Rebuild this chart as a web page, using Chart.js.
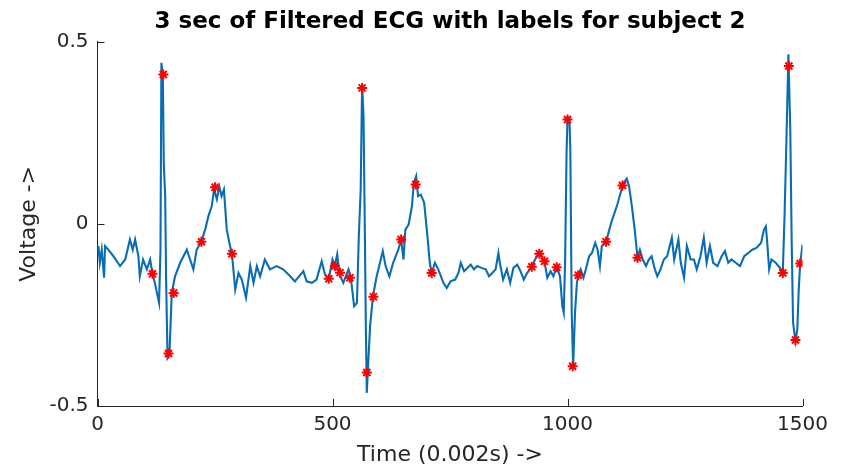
<!DOCTYPE html>
<html>
<head>
<meta charset="utf-8">
<script src="https://cdn.jsdelivr.net/npm/chart.js@4.4.1/dist/chart.umd.min.js"></script>
<style>
  html, body { margin: 0; padding: 0; background: #ffffff; }
  #wrap { width: 851px; height: 473px; position: relative; }
</style>
</head>
<body>
<div id="wrap"><canvas id="c" width="851" height="473"></canvas></div>
<script>
// Filtered ECG signal (sample index, voltage)
const times = [0,2,5,9,14,16,23,34,48,59,69,75,80,87,90,97,105,112,117,122,131,134,136,139,141,144,146,149,153,158,165,176,190,197,204,211,221,229,236,243,248,254,259,264,269,275,282,286,293,300,307,316,325,332,339,346,356,367,381,395,410,420,438,445,456,466,477,484,492,500,505,510,515,523,534,539,546,552,556,560,563,566,569,571,573,576,580,586,594,601,607,613,621,629,640,646,651,655,662,669,673,678,682,688,695,702,707,711,718,725,736,743,751,761,768,773,780,787,794,801,808,817,826,833,840,847,853,856,863,871,878,885,893,900,907,914,924,931,940,951,957,964,970,977,984,989,992,995,998,1000,1004,1006,1009,1012,1016,1020,1023,1028,1034,1039,1046,1052,1059,1064,1069,1073,1082,1089,1094,1099,1106,1113,1120,1126,1131,1137,1143,1149,1154,1160,1167,1173,1179,1185,1191,1198,1205,1212,1222,1227,1236,1241,1248,1254,1262,1269,1275,1283,1290,1296,1303,1310,1319,1328,1335,1342,1349,1358,1367,1376,1385,1393,1402,1412,1418,1422,1425,1429,1434,1443,1452,1458,1462,1466,1470,1474,1477,1480,1485,1489,1492,1495,1500];
const volts = [-0.089,-0.061,-0.107,-0.071,-0.148,-0.061,-0.071,-0.089,-0.116,-0.098,-0.043,-0.071,-0.043,-0.089,-0.144,-0.098,-0.125,-0.098,-0.137,-0.162,-0.217,-0.071,0.442,0.405,0.167,0.076,-0.153,-0.368,-0.359,-0.189,-0.144,-0.107,-0.071,-0.098,-0.125,-0.071,-0.049,-0.016,0.021,0.048,0.094,0.067,0.103,0.076,0.094,-0.016,-0.061,-0.082,-0.180,-0.135,-0.153,-0.203,-0.116,-0.162,-0.116,-0.144,-0.098,-0.125,-0.116,-0.125,-0.144,-0.158,-0.130,-0.158,-0.162,-0.153,-0.103,-0.139,-0.151,-0.098,-0.116,-0.084,-0.139,-0.162,-0.125,-0.148,-0.226,-0.217,-0.034,0.094,0.382,0.295,-0.043,-0.290,-0.464,-0.382,-0.281,-0.199,-0.144,-0.107,-0.075,-0.116,-0.144,-0.107,-0.071,-0.043,-0.098,-0.016,-0.002,0.048,0.113,0.131,0.076,0.080,0.058,-0.034,-0.107,-0.135,-0.107,-0.125,-0.162,-0.176,-0.158,-0.153,-0.135,-0.107,-0.130,-0.121,-0.112,-0.125,-0.116,-0.121,-0.125,-0.144,-0.135,-0.125,-0.080,-0.107,-0.153,-0.125,-0.162,-0.121,-0.112,-0.130,-0.153,-0.135,-0.118,-0.098,-0.080,-0.103,-0.148,-0.130,-0.144,-0.119,-0.144,-0.226,-0.244,-0.098,0.195,0.291,0.291,0.204,-0.244,-0.391,-0.244,-0.162,-0.141,-0.125,-0.148,-0.125,-0.089,-0.080,-0.052,-0.071,-0.116,-0.061,-0.049,-0.016,0.007,0.026,0.053,0.085,0.113,0.124,0.103,0.048,-0.016,-0.093,-0.071,-0.098,-0.116,-0.098,-0.089,-0.121,-0.144,-0.125,-0.098,-0.089,-0.038,-0.098,-0.043,-0.107,-0.148,-0.061,-0.098,-0.098,-0.125,-0.089,-0.038,-0.107,-0.061,-0.107,-0.116,-0.089,-0.075,-0.107,-0.098,-0.107,-0.116,-0.089,-0.080,-0.071,-0.066,-0.052,-0.016,-0.007,-0.052,-0.125,-0.098,-0.107,-0.121,-0.135,0.030,0.240,0.465,0.259,-0.052,-0.272,-0.322,-0.290,-0.180,-0.112,-0.057];

// Labelled points (red asterisks)
const markTimes = [117,140,151,162,221,250,286,492,505,516,537,563,573,587,646,677,711,924,940,951,977,1000,1011,1023,1082,1117,1149,1458,1471,1485,1495];
const markVolts = [-0.137,0.410,-0.356,-0.190,-0.049,0.100,-0.082,-0.151,-0.116,-0.134,-0.148,0.373,-0.408,-0.200,-0.043,0.108,-0.135,-0.118,-0.082,-0.103,-0.119,0.286,-0.391,-0.141,-0.049,0.105,-0.093,-0.135,0.433,-0.319,-0.109];

// Axis ticks
const xTicks = [0, 500, 1000, 1500];
const yTicks = [-0.5, 0, 0.5];

const titleText = '3 sec of Filtered ECG with labels for subject 2';
const xLabel = 'Time (0.002s) ->';
const yLabel = 'Voltage ->';

const axisColor = '#262626';

const inwardTicks = {
  id: 'inwardTicks',
  afterDraw(chart) {
    const { ctx, chartArea: a, scales } = chart;
    ctx.save();
    ctx.strokeStyle = axisColor;
    ctx.lineWidth = 1;
    scales.x.ticks.forEach(t => {
      const px = Math.round(scales.x.getPixelForValue(t.value)) + 0.5;
      ctx.beginPath(); ctx.moveTo(px, a.bottom); ctx.lineTo(px, a.bottom - 7); ctx.stroke();
    });
    scales.y.ticks.forEach(t => {
      const py = Math.round(scales.y.getPixelForValue(t.value)) + 0.5;
      ctx.beginPath(); ctx.moveTo(a.left, py); ctx.lineTo(a.left + 7, py); ctx.stroke();
    });
    ctx.restore();
  }
};

new Chart(document.getElementById('c'), {
  type: 'scatter',
  data: {
    datasets: [
      {
        label: 'ECG',
        data: times.map((t, i) => ({ x: t, y: volts[i] })),
        showLine: true,
        borderColor: '#0a6db3',
        borderWidth: 2.1,
        pointRadius: 0,
        tension: 0,
        order: 2
      },
      {
        label: 'labels',
        data: markTimes.map((t, i) => ({ x: t, y: markVolts[i] })),
        showLine: false,
        pointStyle: 'star',
        pointRadius: 5,
        borderColor: '#ff0000',
        backgroundColor: '#ff0000',
        pointBorderWidth: 2,
        order: 1
      }
    ]
  },
  options: {
    responsive: false,
    animation: false,
    devicePixelRatio: 1,
    layout: { padding: { left: 12, right: 48.5, top: 0, bottom: 1.6 } },
    plugins: {
      legend: { display: false },
      tooltip: { enabled: false },
      title: {
        display: true,
        text: titleText,
        fullSize: false,
        color: '#000000',
        font: { family: 'DejaVu Sans', size: 23, weight: 'bold' },
        padding: { top: 8, bottom: 6 }
      }
    },
    scales: {
      x: {
        type: 'linear',
        min: 0, max: 1500,
        afterBuildTicks: s => { s.ticks = xTicks.map(v => ({ value: v })); },
        afterFit: s => { s.height = 65.4; },
        ticks: {
          color: axisColor,
          padding: 7,
          maxRotation: 0,
          font: { family: 'DejaVu Sans', size: 20 },
          callback: v => String(v)
        },
        grid: { display: true, drawOnChartArea: false, drawTicks: false },
        border: { display: true, color: axisColor, width: 1 },
        title: {
          display: true, text: xLabel, color: axisColor,
          font: { family: 'DejaVu Sans', size: 22 },
          padding: { top: 5, bottom: 3 }
        }
      },
      y: {
        type: 'linear',
        min: -0.5, max: 0.5,
        afterBuildTicks: s => { s.ticks = yTicks.map(v => ({ value: v })); },
        afterFit: s => { s.width = 85.5; },
        ticks: {
          color: axisColor,
          padding: 9,
          font: { family: 'DejaVu Sans', size: 20 },
          callback: v => String(v)
        },
        grid: { display: true, drawOnChartArea: false, drawTicks: false },
        border: { display: true, color: axisColor, width: 1 },
        title: {
          display: true, text: yLabel, color: axisColor,
          font: { family: 'DejaVu Sans', size: 22 },
          padding: { top: 4, bottom: 4 }
        }
      }
    }
  },
  plugins: [inwardTicks]
});
</script>
</body>
</html>
